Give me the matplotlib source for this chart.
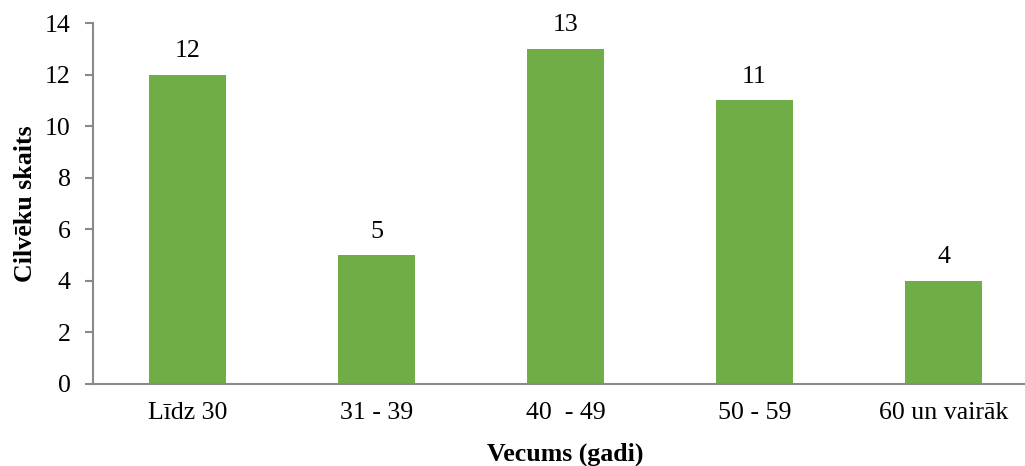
import matplotlib.pyplot as plt

categories = ["Līdz 30", "31 - 39", "40  - 49", "50 - 59", "60 un vairāk"]
counts = [12, 5, 13, 11, 4]
yticks = [0, 2, 4, 6, 8, 10, 12, 14]

plt.rcParams['font.family'] = ['Liberation Serif', 'DejaVu Serif']
fs = 18.6

fig = plt.figure(figsize=(10.25, 4.66), dpi=100)
ax = fig.add_axes([93/1025, 82/466, 945/1025, 361/466])

x = range(len(categories))
bars = ax.bar(x, counts, width=0.41, color='#70AD47', zorder=2)
for b, v in zip(bars, counts):
    ax.annotate(str(v), (b.get_x() + b.get_width()/2, v), xytext=(0, 9),
                textcoords='offset points', ha='center', va='bottom', fontsize=fs)

ax.set_xlim(-0.5, len(categories) - 0.5)
ax.set_ylim(0, 14)
ax.set_yticks(yticks)
ax.set_xticks(list(x))
ax.set_xticklabels(categories)
ax.tick_params(axis='x', length=0, pad=13, labelsize=fs)
ax.tick_params(axis='y', length=6, width=1.5, color='#898989', pad=10, labelsize=fs)

for s in ['top', 'right']:
    ax.spines[s].set_visible(False)
for s in ['left', 'bottom']:
    ax.spines[s].set_color('#898989')
    ax.spines[s].set_linewidth(1.5)

ax.set_ylabel('Cilvēku skaits', fontweight='bold', fontsize=fs, labelpad=6)
ax.set_xlabel('Vecums (gadi)', fontweight='bold', fontsize=fs, labelpad=13)

fig.savefig('out.png', dpi=100)
